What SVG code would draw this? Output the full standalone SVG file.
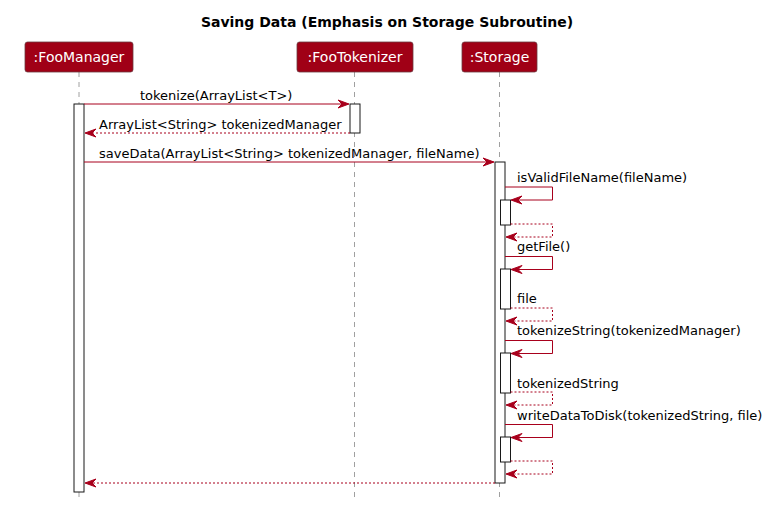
<svg xmlns="http://www.w3.org/2000/svg" width="773" height="507" viewBox="0 0 773 507">
<style>
text{font-family:"DejaVu Sans",sans-serif;font-size:13px;fill:#000}
.title{font-weight:bold;font-size:14px}
.pbox{fill:#A00016;stroke:#6A3A40;stroke-width:0.8}
.ptext{fill:#FFFFFF;font-size:14px}
.life{stroke:#A0A0A0;stroke-width:1;stroke-dasharray:5,5}
.act{fill:#FFFFFF;stroke:#181818;stroke-width:1}
.msg{stroke:#A8001C;stroke-width:1;fill:none}
.ret{stroke:#A8001C;stroke-width:1;fill:none;stroke-dasharray:2,2}
.ah{fill:#A8001C;stroke:#A8001C;stroke-width:1}
</style>
<rect width="773" height="507" fill="#FFFFFF"/>
<text class="title" x="387" y="27" text-anchor="middle">Saving Data (Emphasis on Storage Subroutine)</text>
<g id="lifelines">
<line class="life" x1="79" y1="72" x2="79" y2="498"/>
<line class="life" x1="354.5" y1="72" x2="354.5" y2="498"/>
<line class="life" x1="499.5" y1="72" x2="499.5" y2="498"/>
</g>
<g id="FooManager">
<rect class="pbox" x="25" y="42" width="108" height="30" rx="2.5"/>
<text class="ptext" x="79" y="62" text-anchor="middle">:FooManager</text>
<rect class="act" x="74" y="104" width="10" height="388"/>
</g>
<g id="FooTokenizer">
<rect class="pbox" x="297" y="42" width="116" height="30" rx="2.5"/>
<text class="ptext" x="355" y="62" text-anchor="middle">:FooTokenizer</text>
<rect class="act" x="350" y="104" width="10" height="29"/>
</g>
<g id="Storage">
<rect class="pbox" x="462" y="42" width="75" height="30" rx="2.5"/>
<text class="ptext" x="499.5" y="62" text-anchor="middle">:Storage</text>
<rect class="act" x="495" y="162" width="10" height="321"/>
<rect class="act" x="500.5" y="200" width="10" height="25"/>
<rect class="act" x="500.5" y="269" width="10" height="40"/>
<rect class="act" x="500.5" y="353" width="10" height="40"/>
<rect class="act" x="500.5" y="437" width="10" height="25"/>
</g>
<g id="connectors">
<line class="msg" x1="84" y1="104" x2="348" y2="104"/>
<polygon class="ah" points="338,100 349,104 338,108 342,104"/>
<text x="140" y="100">tokenize(ArrayList&lt;T&gt;)</text>

<line class="ret" x1="350" y1="133" x2="86" y2="133"/>
<polygon class="ah" points="96,129 85,133 96,137 92,133"/>
<text x="99" y="129">ArrayList&lt;String&gt; tokenizedManager</text>

<line class="msg" x1="84" y1="162" x2="493" y2="162"/>
<polygon class="ah" points="483,158 494,162 483,166 487,162"/>
<text x="99" y="158">saveData(ArrayList&lt;String&gt; tokenizedManager, fileName)</text>

<polyline class="msg" points="505,187 552.5,187 552.5,200 512,200"/>
<polygon class="ah" points="522,196 511,200 522,204 518,200"/>
<text x="517" y="182">isValidFileName(fileName)</text>
<polyline class="ret" points="510.5,224 552.5,224 552.5,237 507,237"/>
<polygon class="ah" points="517,233 506,237 517,241 513,237"/>

<polyline class="msg" points="505,256.5 552.5,256.5 552.5,269.5 512,269.5"/>
<polygon class="ah" points="522,265.5 511,269.5 522,273.5 518,269.5"/>
<text x="517" y="251">getFile()</text>
<polyline class="ret" points="510.5,308 552.5,308 552.5,321 507,321"/>
<polygon class="ah" points="517,317 506,321 517,325 513,321"/>
<text x="517" y="303">file</text>

<polyline class="msg" points="505,340.5 552.5,340.5 552.5,353.5 512,353.5"/>
<polygon class="ah" points="522,349.5 511,353.5 522,357.5 518,353.5"/>
<text x="517" y="335">tokenizeString(tokenizedManager)</text>
<polyline class="ret" points="510.5,392 552.5,392 552.5,405 507,405"/>
<polygon class="ah" points="517,401 506,405 517,409 513,405"/>
<text x="517" y="388">tokenizedString</text>

<polyline class="msg" points="505,424.5 552.5,424.5 552.5,437.5 512,437.5"/>
<polygon class="ah" points="522,433.5 511,437.5 522,441.5 518,437.5"/>
<text x="517" y="420">writeDataToDisk(tokenizedString, file)</text>
<polyline class="ret" points="510.5,461 552.5,461 552.5,474 507,474"/>
<polygon class="ah" points="517,470 506,474 517,478 513,474"/>

<line class="ret" x1="495" y1="483" x2="86" y2="483"/>
<polygon class="ah" points="96,479 85,483 96,487 92,483"/>
</g>
</svg>
